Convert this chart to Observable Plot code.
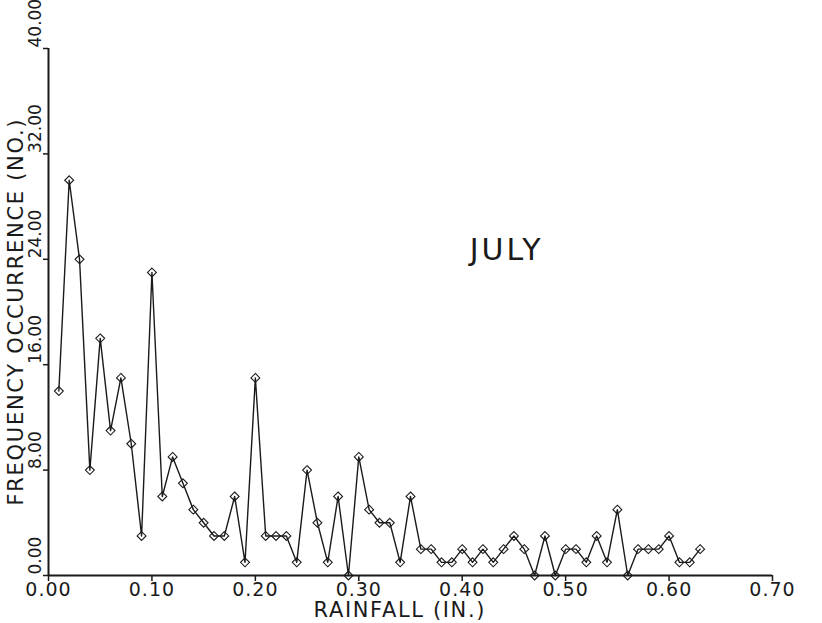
<!DOCTYPE html>
<html><head><meta charset="utf-8">
<script src="https://cdn.jsdelivr.net/npm/d3@7"></script>
<script src="https://cdn.jsdelivr.net/npm/@observablehq/plot@0.6"></script>
<style>body{margin:0;background:#fff}</style>
</head><body><div id="chart"></div>
<script>
const rainfall = [0.01,0.02,0.03,0.04,0.05,0.06,0.07,0.08,0.09,0.10,
  0.11,0.12,0.13,0.14,0.15,0.16,0.17,0.18,0.19,0.20,
  0.21,0.22,0.23,0.24,0.25,0.26,0.27,0.28,0.29,0.30,
  0.31,0.32,0.33,0.34,0.35,0.36,0.37,0.38,0.39,0.40,
  0.41,0.42,0.43,0.44,0.45,0.46,0.47,0.48,0.49,0.50,
  0.51,0.52,0.53,0.54,0.55,0.56,0.57,0.58,0.59,0.60,
  0.61,0.62,0.63];
const frequency = [14,30,24,8,18,11,15,10,3,23,
  6,9,7,5,4,3,3,6,1,15,
  3,3,3,1,8,4,1,6,0,9,
  5,4,4,1,6,2,2,1,1,2,
  1,2,1,2,3,2,0,3,0,2,
  2,1,3,1,5,0,2,2,2,3,
  1,1,2];
const xTicks = [0,0.1,0.2,0.3,0.4,0.5,0.6,0.7];
const yTicks = [0,8,16,24,32,40];
const yTitle = "FREQUENCY OCCURRENCE (NO.)";
const xTitle = "RAINFALL (IN.)";
const panelLabel = "JULY";

const data = rainfall.map((x, i) => ({x, y: frequency[i]}));
const fmt = d3.format(".2f");
const ink = "#1a1a1a";

const chart = Plot.plot({
  width: 822, height: 623,
  marginLeft: 48, marginRight: 50, marginTop: 48, marginBottom: 48,
  style: {fontFamily: "DejaVu Sans", fontSize: "19px", letterSpacing: "1px", background: "white", color: ink},
  x: {domain: [0, 0.7]},
  y: {domain: [0, 40]},
  marks: [
    Plot.ruleY([0], {stroke: ink, strokeWidth: 2}),
    Plot.ruleX([0], {stroke: ink, strokeWidth: 2}),
    Plot.axisX({ticks: xTicks, tickSize: 6, tickPadding: 1, tickFormat: fmt, label: null, strokeWidth: 1.5, fill: ink}),
    Plot.axisY({ticks: yTicks, tickSize: 5, tickFormat: () => "", label: null, strokeWidth: 1.5}),
    Plot.text(yTicks, {y: d => d, text: d => fmt(d), frameAnchor: "left", dx: -13, dy: -1, rotate: -90, textAnchor: "start", fontSize: 17, fill: ink}),
    Plot.text([yTitle], {text: d => d, frameAnchor: "left", dx: -32, dy: 0, rotate: -90, textAnchor: "middle", lineAnchor: "middle", fontSize: 21, fill: ink}),
    Plot.text([xTitle], {text: d => d, frameAnchor: "bottom", dx: -11, dy: 35, textAnchor: "middle", lineAnchor: "middle", fontSize: 21, fill: ink}),
    Plot.text([panelLabel], {text: d => d, x: 0.441, y: 24.7, dx: 2, fontSize: 30, fill: ink}),
    Plot.line(data, {x: "x", y: "y", stroke: ink, strokeWidth: 1.4}),
    Plot.dot(data, {x: "x", y: "y", symbol: "diamond2", r: 4, stroke: ink, fill: "none", strokeWidth: 1.1})
  ]
});
const yLabelSet = new Set(yTicks.map(fmt));
const textGroups = chart.querySelectorAll('g[aria-label="text"]');
if (textGroups.length) textGroups[0].style.letterSpacing = "0px";
chart.querySelectorAll("text").forEach(t => {
  const s = t.textContent;
  if (s === yTitle) { t.setAttribute("textLength", 387); t.setAttribute("lengthAdjust", "spacing"); }
  if (s === xTitle) { t.setAttribute("textLength", 172); t.setAttribute("lengthAdjust", "spacing"); }
  if (s === panelLabel) { t.style.letterSpacing = "3px"; }
});
document.getElementById("chart").append(chart);
</script>
</body></html>
